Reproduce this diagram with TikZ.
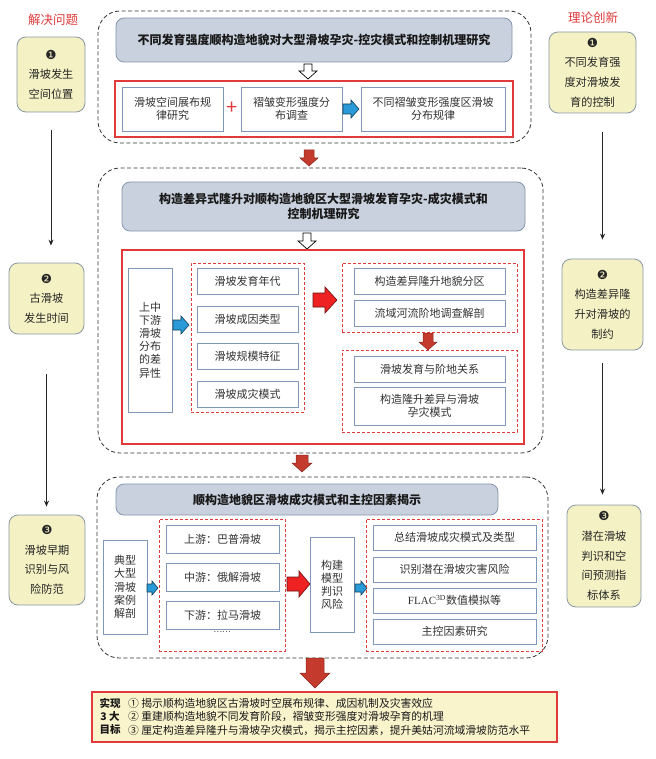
\documentclass[tikz,border=0pt]{standalone}
\usepackage{fontspec}
\setmainfont{Noto Sans CJK SC}
\newfontfamily\symf{DejaVu Sans}
\newfontfamily\tnr{Liberation Serif}
\usetikzlibrary{arrows.meta}
\definecolor{hdrfill}{HTML}{C9D1DE}
\definecolor{hdrbd}{HTML}{8595AB}
\definecolor{sidefill}{HTML}{F4F2C4}
\definecolor{sidebd}{HTML}{8A97A5}
\definecolor{inbd}{HTML}{7F97B8}
\definecolor{redc}{HTML}{E03A3A}
\definecolor{darkred}{HTML}{C43A2C}
\definecolor{brightred}{HTML}{EE2222}
\definecolor{bluec}{HTML}{2B9AD8}
\definecolor{txt}{HTML}{333333}
\definecolor{botfill}{HTML}{FAF4CC}
\newcommand{\DArr}[7]{\draw[#1] ({#2-#5},#3) -- ({#2+#5},#3) -- ({#2+#5},{#4-#7}) -- ({#2+#6},{#4-#7}) -- (#2,#4) -- ({#2-#6},{#4-#7}) -- ({#2-#5},{#4-#7}) -- cycle;}
\newcommand{\RArr}[7]{\draw[#1] (#2,{#4-#5}) -- ({#3-#7},{#4-#5}) -- ({#3-#7},{#4-#6}) -- (#3,#4) -- ({#3-#7},{#4+#6}) -- ({#3-#7},{#4+#5}) -- (#2,{#4+#5}) -- cycle;}
\newcommand{\nsym}[1]{{\symf\fontsize{12.5}{19.6}\selectfont #1}}
\begin{document}
\begin{tikzpicture}[x=1pt,y=-1pt,
  sz/.style 2 args={minimum width=#1pt, minimum height=#2pt},
  inbox/.style={draw=inbd, line width=0.8pt, fill=white, inner sep=0pt, align=center, text=txt, font=\fontsize{11}{13.5}\selectfont},
  side/.style={draw=sidebd, fill=sidefill, rounded corners=9pt, line width=0.8pt, align=center, inner sep=0pt, text=black!85, font=\fontsize{11.2}{19.6}\selectfont},
  hdr/.style={draw=hdrbd, fill=hdrfill, rounded corners=8pt, line width=0.8pt, align=center, inner sep=0pt, text=black!90, font=\bfseries\fontsize{12}{15}\selectfont},
  dashbox/.style={draw=black!80, dash pattern=on 4pt off 2.5pt, rounded corners=22pt, line width=0.8pt, inner sep=0pt},
  reddash/.style={draw=redc, dash pattern=on 3pt off 2pt, line width=0.7pt, inner sep=0pt},
  redbox/.style={draw=redc, line width=1.3pt, inner sep=0pt},
  hollow/.style={draw=black, fill=white, line width=0.7pt},
  sectarr/.style={fill=darkred, draw=darkred!70!black, line width=0.5pt},
  bigred/.style={fill=brightred, draw=brightred!45!black, line width=0.6pt},
  bluearr/.style={fill=bluec, draw=bluec!40!black, line width=0.6pt},
  sidearr/.style={-{Stealth[length=6pt,width=5pt]}, line width=0.9pt, draw=black!85},
  lbl/.style={text=redc, font=\fontsize{12.5}{14}\selectfont},
  goal/.style={font=\bfseries\fontsize{10.5}{12}\selectfont, text=black!90, inner sep=0pt},
  goaltxt/.style={anchor=west, font=\fontsize{10.8}{12}\selectfont, text=black!90, inner sep=0pt}
]
\useasboundingbox (0,0) rectangle (655,759);
\fill[white] (0,0) rectangle (655,759);

% ---------- side columns ----------
\node[lbl] (lt) at (53,20) {解决问题};
\node[lbl] (rt) at (593,18) {理论创新};

\node[side, sz={68}{75}] (L1) at (51,74.5) {\nsym{❶}\\滑坡发生\\空间位置};
\node[side, sz={75}{71}] (L2) at (46.5,298.5) {\nsym{❷}\\古滑坡\\发生时间};
\node[side, sz={76}{90}] (L3) at (47,560) {\nsym{❸}\\滑坡早期\\识别与风\\险防范};

\node[side, sz={87}{81}] (R1) at (592.5,72.5) {\nsym{❶}\\不同发育强\\度对滑坡发\\育的控制};
\node[side, sz={81}{91}] (R2) at (602.5,304.5) {\nsym{❷}\\构造差异隆\\升对滑坡的\\制约};
\node[side, sz={74}{102}] (R3) at (604,556) {\nsym{❸}\\潜在滑坡\\判识和空\\间预测指\\标体系};

\draw[sidearr, shorten <=18pt, shorten >=17pt] (L1.south) -- (L1.south |- L2.north);
\draw[sidearr, shorten <=40pt, shorten >=8pt] (L2.south) -- (L2.south |- L3.north);
\draw[sidearr, shorten <=19pt, shorten >=19pt] (R2.north |- R1.south) -- (R2.north);
\draw[sidearr, shorten <=13pt, shorten >=10pt] (R2.south) -- (R2.south |- R3.north);

% ---------- section 1 ----------
\node[dashbox, sz={433}{132}] (S1) at (314.5,77) {};
\node[hdr, sz={396}{44}] (H1) at (314,40) {不同发育强度顺构造地貌对大型滑坡孕灾-控灾模式和控制机理研究};
\DArr{hollow}{308}{64}{79}{4}{9}{8}
\node[redbox, sz={398}{56}] (RB1) at (314,109) {};
\node[inbox, sz={101}{44}] (A1) at (172.5,109) {滑坡空间展布规\\律研究};
\node[text=redc, font=\fontsize{20}{20}\selectfont, inner sep=0pt] (plus) at (232,108) {+};
\node[inbox, sz={101}{44}] (A2) at (291.5,109) {褶皱变形强度分\\布调查};
\node[inbox, sz={144}{44}] (A3) at (433,109) {不同褶皱变形强度区滑坡\\分布规律};
\RArr{bluearr}{343}{359}{109}{5}{9}{8}
\DArr{sectarr}{309}{150}{166}{5}{9}{8}

% ---------- section 2 ----------
\node[dashbox, sz={445}{285}] (S2) at (320.5,310.5) {};
\node[hdr, sz={403}{49}] (H2) at (323.5,206.5) {构造差异式隆升对顺构造地貌区大型滑坡发育孕灾-成灾模式和\\控制机理研究};
\DArr{hollow}{307}{233}{249}{4}{9}{8}
\node[redbox, sz={402}{194}] (RB2) at (323,347) {};
\node[inbox, sz={44}{144}, font=\fontsize{11}{13.2}\selectfont] (U) at (150,340) {上中\\下游\\滑坡\\分布\\的差\\异性};
\RArr{bluearr}{173}{189}{325}{5}{9}{8}
\node[reddash, sz={113}{149}] (D1) at (247.5,337.5) {};
\node[inbox, sz={101}{26}] (B1) at (247.5,281) {滑坡发育年代};
\node[inbox, sz={101}{26}] (B2) at (247.5,319) {滑坡成因类型};
\node[inbox, sz={101}{26}] (B3) at (247.5,356) {滑坡规模特征};
\node[inbox, sz={101}{26}] (B4) at (247.5,394) {滑坡成灾模式};
\RArr{bigred}{313}{337}{300}{7}{13}{12}
\node[reddash, sz={175}{69}] (D2) at (429.5,297.5) {};
\node[inbox, sz={151}{26}] (C1) at (429.5,281) {构造差异隆升地貌分区};
\node[inbox, sz={151}{26}] (C2) at (429.5,313) {流域河流阶地调查解剖};
\DArr{sectarr}{428}{333}{350}{5}{9}{8}
\node[reddash, sz={175}{82}] (D3) at (429.5,391) {};
\node[inbox, sz={151}{26}] (C3) at (429.5,369) {滑坡发育与阶地关系};
\node[inbox, sz={151}{38}] (C4) at (429.5,406) {构造隆升差异与滑坡\\孕灾模式};
\DArr{sectarr}{302}{455}{472}{6}{10}{9}

% ---------- section 3 ----------
\node[dashbox, sz={451}{181}] (S3) at (322.5,567.5) {};
\node[hdr, sz={382}{31}] (H3) at (307,499.5) {顺构造地貌区滑坡成灾模式和主控因素揭示};
\node[inbox, sz={44}{94}, font=\fontsize{11}{13.3}\selectfont] (T) at (125,587) {典型\\大型\\滑坡\\案例\\解剖};
\RArr{bluearr}{147}{158}{588}{4}{7}{6}
\node[reddash, sz={126}{132}] (D4) at (222,585) {};
\node[inbox, sz={113}{28}] (E1) at (222.5,539) {上游：巴普滑坡};
\node[inbox, sz={113}{28}] (E2) at (222.5,577.5) {中游：俄解滑坡};
\node[inbox, sz={113}{28}] (E3) at (222.5,615) {下游：拉马滑坡};
\node[text=txt, font=\fontsize{8}{8}\selectfont, inner sep=0pt] (dots) at (222,632) {……};
\RArr{bigred}{287}{310}{584}{7}{13}{11}
\node[inbox, sz={44}{95}, font=\fontsize{11}{13}\selectfont] (M) at (332,584.5) {构建\\模型\\判识\\风险};
\RArr{bluearr}{355}{367}{588}{4}{7}{6}
\node[reddash, sz={176}{132}] (D5) at (454,585) {};
\node[inbox, sz={163}{25}] (F1) at (454.5,537.5) {总结滑坡成灾模式及类型};
\node[inbox, sz={163}{25}] (F2) at (454.5,569.5) {识别潜在滑坡灾害风险};
\node[inbox, sz={163}{25}] (F3) at (454.5,600.5) {{\tnr FLAC\textsuperscript{3D}}数值模拟等};
\node[inbox, sz={163}{25}] (F4) at (454.5,631.5) {主控因素研究};
\DArr{sectarr}{315}{658}{688}{9}{15}{15}

% ---------- bottom goals ----------
\node[draw=redc, fill=botfill, line width=1.2pt, sz={465}{50}, inner sep=0pt] (G) at (324.5,717) {};
\node[goal] (g1) at (110,703) {实现};
\node[goal] (g2) at (110,716.5) {3 大};
\node[goal] (g3) at (110,730) {目标};
\node[goaltxt] (t1) at (128,703) {① 揭示顺构造地貌区古滑坡时空展布规律、成因机制及灾害效应};
\node[goaltxt] (t2) at (128,716.5) {② 重建顺构造地貌不同发育阶段，褶皱变形强度对滑坡孕育的机理};
\node[goaltxt] (t3) at (128,730) {③ 厘定构造差异隆升与滑坡孕灾模式，揭示主控因素，提升美姑河流域滑坡防范水平};
\end{tikzpicture}
\end{document}
